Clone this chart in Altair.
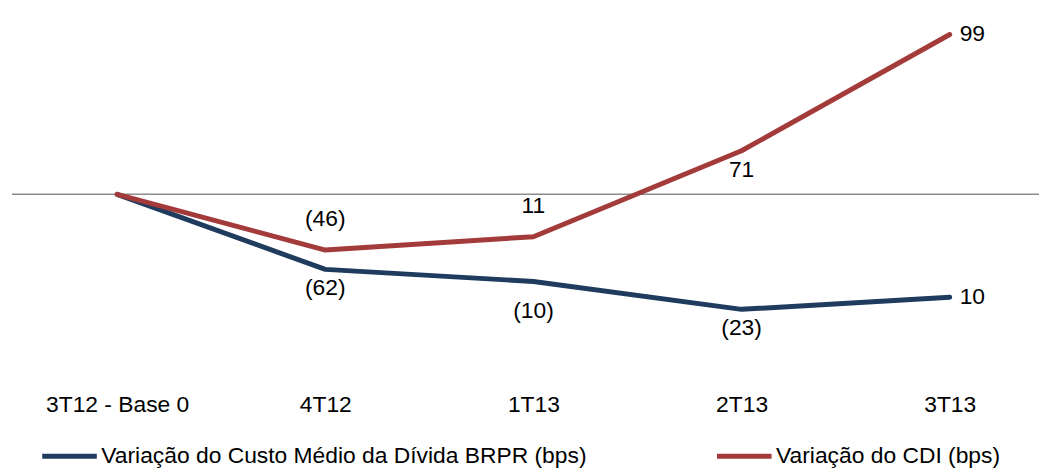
import altair as alt
import pandas as pd

periods = ["3T12 - Base 0", "4T12", "1T13", "2T13", "3T13"]
series_names = ["Variação do Custo Médio da Dívida BRPR  (bps)", "Variação do CDI (bps)"]
brpr_cum = [0, -62, -72, -95, -85]
cdi_cum = [0, -46, -35, 36, 132]
brpr_labels = ["", "(62)", "(10)", "(23)", "10"]
cdi_labels = ["", "(46)", "11", "71", "99"]
colors = ["#1F3B5E", "#A33B3A"]

rows = []
for i, p in enumerate(periods):
    rows.append({"idx": i, "period": p, "series": series_names[0], "value": brpr_cum[i], "label": brpr_labels[i], "key": f"b{i}"})
    rows.append({"idx": i, "period": p, "series": series_names[1], "value": cdi_cum[i], "label": cdi_labels[i], "key": f"c{i}"})
df = pd.DataFrame(rows)

FONT = "Liberation Sans"
FS = 23
x_scale = alt.Scale(domain=[-0.5054, 4.429], nice=False, zero=False)
y_scale = alt.Scale(domain=[-152.46, 152.46], nice=False, zero=False)

label_expr = "[" + ",".join(f"'{p}'" for p in periods) + "][datum.value]"

base = alt.Chart(df)

zero = alt.Chart(pd.DataFrame({"y": [0]})).mark_rule(color="#8C8C8C", strokeWidth=1.5).encode(
    y=alt.Y("y:Q", scale=y_scale, axis=None),
    x=alt.value(0), x2=alt.value(1035),
)

lines = base.mark_line(strokeWidth=5, strokeCap="round", strokeJoin="round").encode(
    x=alt.X("idx:Q", scale=x_scale,
            axis=alt.Axis(values=[0, 1, 2, 3, 4], labelExpr=label_expr, title=None, domain=False,
                          ticks=False, tickSize=0, grid=False, labelFont=FONT, labelFontSize=FS,
                          labelColor="#000000", labelPadding=26, labelBaseline="middle",
                          labelFlush=False, labelOverlap=False)),
    y=alt.Y("value:Q", scale=y_scale, axis=None),
    color=alt.Color("series:N", scale=alt.Scale(domain=series_names, range=colors),
                    legend=alt.Legend(title=None, orient="none", direction="horizontal",
                                      legendX=28, legendY=420, symbolType="stroke",
                                      symbolSize=3025, symbolStrokeWidth=5, labelFont=FONT,
                                      labelFontSize=FS, labelColor="#000000", labelOffset=2,
                                      columnPadding=114, labelLimit=700)),
    detail="series:N",
)

def text_layer(keys, dx=0, dy=0, align="center"):
    return base.transform_filter(
        alt.FieldOneOfPredicate(field="key", oneOf=keys)
    ).mark_text(font=FONT, fontSize=FS, color="#000000", dx=dx, dy=dy, align=align, baseline="middle").encode(
        x=alt.X("idx:Q", scale=x_scale),
        y=alt.Y("value:Q", scale=y_scale),
        text="label:N",
    )

above = text_layer(["c1", "c2"], dy=-31)
below = text_layer(["c3", "b1", "b3"], dy=19)
below2 = text_layer(["b2"], dy=30)
right = text_layer(["c4", "b4"], dx=10, align="left")

chart = alt.layer(zero, lines, above, below, below2, right).properties(
    width=1035, height=372,
    padding={"left": 4, "top": 0, "right": 0, "bottom": 88},
    autosize=alt.AutoSizeParams(type="none"),
).configure_view(stroke=None)

chart.save("out.html", embed_options={"renderer": "svg", "actions": False})
